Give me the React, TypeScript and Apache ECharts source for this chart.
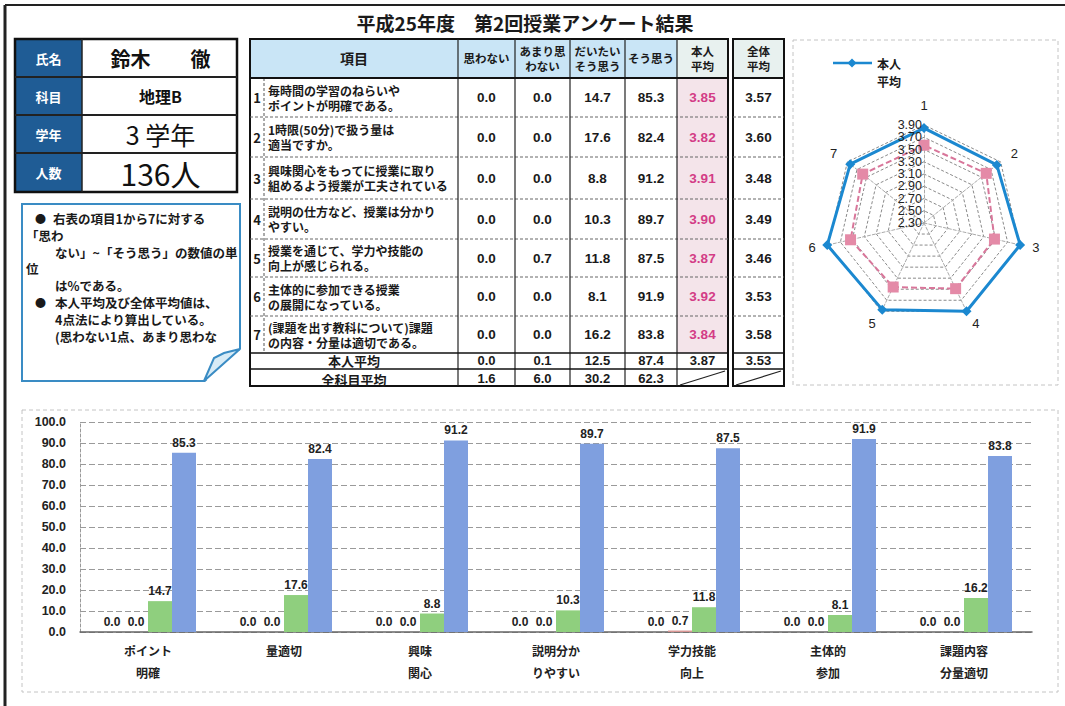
import React, { useEffect, useRef } from "react";
import * as echarts from "echarts";

// ---------- data ----------
const titleText = "平成25年度　第2回授業アンケート結果";
const infoLabels = ["氏名", "科目", "学年", "人数"];
const infoValues = ["鈴木　　徹", "地理B", "3 学年", "136人"];
const headerCols = ["思わない", "あまり思\nわない", "だいたい\nそう思う", "そう思う"];
const itemTexts = [
  "毎時間の学習のねらいや\nポイントが明確である。",
  "1時限(50分)で扱う量は\n適当ですか。",
  "興味関心をもってに授業に取り\n組めるよう授業が工夫されている",
  "説明の仕方など、授業は分かり\nやすい。",
  "授業を通じて、学力や技能の\n向上が感じられる。",
  "主体的に参加できる授業\nの展開になっている。",
  "(課題を出す教科について)課題\nの内容・分量は適切である。",
];
const omowanai = [0.0, 0.0, 0.0, 0.0, 0.0, 0.0, 0.0];
const amari = [0.0, 0.0, 0.0, 0.0, 0.7, 0.0, 0.0];
const daitai = [14.7, 17.6, 8.8, 10.3, 11.8, 8.1, 16.2];
const souOmou = [85.3, 82.4, 91.2, 89.7, 87.5, 91.9, 83.8];
const honninAvg = [3.85, 3.82, 3.91, 3.9, 3.87, 3.92, 3.84];
const zentaiAvg = [3.57, 3.6, 3.48, 3.49, 3.46, 3.53, 3.58];
const honninSummary = [0.0, 0.1, 12.5, 87.4];
const honninSummaryAvg = [3.87, 3.53];
const allSubjSummary = [1.6, 6.0, 30.2, 62.3];
const barCategories = ["ポイント\n明確", "量適切", "興味\n関心", "説明分か\nりやすい", "学力技能\n向上", "主体的\n参加", "課題内容\n分量適切"];
const barSeriesNames = ["思わない", "あまり思わない", "だいたいそう思う", "そう思う"];
const radarNames = ["1", "2", "3", "4", "5", "6", "7"];
const radarTicks = ["2.30", "2.50", "2.70", "2.90", "3.10", "3.30", "3.50", "3.70", "3.90"];
const noteLines = [
  { t: "●", x: 35, y: 218 },
  { t: "右表の項目1から7に対する", x: 53, y: 218 },
  { t: "「思わ", x: 26, y: 235 },
  { t: "ない」~「そう思う」の数値の単", x: 55, y: 252 },
  { t: "位", x: 26, y: 268 },
  { t: "は%である。", x: 55, y: 285 },
  { t: "●", x: 35, y: 302 },
  { t: "本人平均及び全体平均値は、", x: 55, y: 302 },
  { t: "4点法により算出している。", x: 55, y: 319 },
  { t: "(思わない1点、あまり思わな", x: 55, y: 336 },
];

// ---------- helpers ----------
const JP = '"Noto Sans CJK JP", "Noto Sans", sans-serif';
const NUM = '"Liberation Sans", Arial, sans-serif';

function txt(x: number, y: number, text: string, size: number, o: any = {}) {
  const style: any = {
    text,
    font: `${o.weight ?? "bold"} ${size}px ${o.family ?? JP}`,
    fill: o.color ?? "#1a1a1a",
    textAlign: o.align ?? "center",
    textVerticalAlign: "middle",
  };
  if (o.lh) style.lineHeight = o.lh;
  return { type: "text", x, y, silent: true, z: 10, style };
}
function rect(x: number, y: number, w: number, h: number, fill: string, stroke?: string, lw?: number, dash?: number[]) {
  return {
    type: "rect",
    silent: true,
    z: 1,
    shape: { x, y, width: w, height: h },
    style: { fill, stroke: stroke ?? "none", lineWidth: lw ?? 0, lineDash: dash },
  };
}
function ln(x1: number, y1: number, x2: number, y2: number, stroke = "#111", lw = 1, dash?: number[]) {
  return { type: "line", silent: true, z: 5, shape: { x1, y1, x2, y2 }, style: { stroke, lineWidth: lw, lineDash: dash } };
}

const f1 = (v: number) => v.toFixed(1);
const f2 = (v: number) => v.toFixed(2);

export default function App() {
  const ref = useRef<HTMLDivElement>(null);
  useEffect(() => {
    if (!ref.current) return;
    const chart = echarts.init(ref.current, null, { renderer: "svg" });
    const g: any[] = [];

    // outer frame
    g.push(ln(5, 5, 1065, 5, "#222", 2));
    g.push(ln(5, 5, 5, 706, "#222", 3));

    // ---- info table ----
    const iy = [39, 77, 115, 153, 192];
    const ix0 = 15, ix1 = 82, ix2 = 237;
    for (let i = 0; i < 4; i++) {
      g.push(rect(ix0, iy[i], ix1 - ix0, iy[i + 1] - iy[i], "#1f5c95"));
      g.push(rect(ix1, iy[i], ix2 - ix1, iy[i + 1] - iy[i], "#ffffff"));
      g.push(txt((ix0 + ix1) / 2, (iy[i] + iy[i + 1]) / 2, infoLabels[i], 13, { color: "#ffffff" }));
      if (i > 0) g.push(ln(ix0, iy[i], ix2, iy[i], "#222", 2));
    }
    g.push(ln(ix1, iy[0], ix1, iy[4], "#222", 1.5));
    g.push(rect(ix0, iy[0], ix2 - ix0, iy[4] - iy[0], "none", "#111", 2.5));
    const ivs = [
      { s: 20, w: "bold" },
      { s: 16, w: "bold" },
      { s: 25, w: "normal" },
      { s: 30, w: "normal" },
    ];
    for (let i = 0; i < 4; i++) {
      g.push(txt((ix1 + ix2) / 2 + 1, (iy[i] + iy[i + 1]) / 2, infoValues[i], ivs[i].s, { weight: ivs[i].w, color: "#111" }));
    }

    // ---- note box ----
    g.push(rect(22, 204, 218, 177, "#ffffff", "#3a8cc4", 2));
    g.push({ type: "polygon", silent: true, z: 6, shape: { points: [[204, 383], [242, 383], [242, 348]] }, style: { fill: "#ffffff" } });
    g.push({ type: "polygon", silent: true, z: 7, shape: { points: [[204, 381], [240, 349], [224, 353], [214, 358]] }, style: { fill: "#d7ebf6", stroke: "#3a8cc4", lineWidth: 2 } });
    g.push(ln(22, 381, 204, 381, "#3a8cc4", 2));
    g.push(ln(240, 204, 240, 349, "#3a8cc4", 2));
    noteLines.forEach((n) => g.push(txt(n.x, n.y, n.t, n.t === "●" ? 11 : 12.5, { align: "left", color: "#1a1a1a", lh: 14 })));

    // ---- main table ----
    const tx0 = 250, tNum = 264, tItem = 458;
    const vx = [458, 515, 570, 625, 677];
    const hX0 = 677, hX1 = 728, zX0 = 733, zX1 = 784;
    const yTop = 39, yHead = 78;
    const ry = [78, 117, 157, 199, 239, 277, 316, 353];
    const yS1 = 369, yBot = 386;
    // backgrounds
    g.push(rect(tx0, yTop, hX0 - tx0, yHead - yTop, "#c9e5f6"));
    g.push(rect(hX0, yTop, hX1 - hX0, yHead - yTop, "#e8f1ef"));
    g.push(rect(zX0, yTop, zX1 - zX0, yHead - yTop, "#e8f1ef"));
    g.push(rect(hX0, yHead, hX1 - hX0, ry[7] - yHead, "#f4e4ea"));
    g.push(rect(tx0, yHead, hX0 - tx0, yBot - yHead, "#ffffff"));
    g.push(rect(zX0, yHead, zX1 - zX0, yBot - yHead, "#ffffff"));
    // header text
    g.push(txt((tx0 + tItem) / 2, 58, "項目", 14));
    headerCols.forEach((h, i) => g.push(txt((vx[i] + vx[i + 1]) / 2, 58, h, 11.5, { lh: 15 })));
    g.push(txt((hX0 + hX1) / 2, 58, "本人\n平均", 11.5, { lh: 15 }));
    g.push(txt((zX0 + zX1) / 2, 58, "全体\n平均", 11.5, { lh: 15 }));
    // rows
    for (let r = 0; r < 7; r++) {
      const cy = (ry[r] + ry[r + 1]) / 2;
      g.push(txt(257, cy, String(r + 1), 13));
      g.push(txt(268, cy, itemTexts[r], 12, { align: "left", lh: 15 }));
      const vals = [omowanai[r], amari[r], daitai[r], souOmou[r]];
      vals.forEach((v, i) => g.push(txt((vx[i] + vx[i + 1]) / 2, cy, f1(v), 13.5, { family: NUM })));
      g.push(txt((hX0 + hX1) / 2, cy, f2(honninAvg[r]), 13.5, { family: NUM, color: "#d33c86" }));
      g.push(txt((zX0 + zX1) / 2, cy, f2(zentaiAvg[r]), 13.5, { family: NUM }));
      if (r > 0) {
        g.push(ln(tx0, ry[r], hX1, ry[r], "#666", 1, [3, 2]));
        g.push(ln(zX0, ry[r], zX1, ry[r], "#666", 1, [3, 2]));
      }
    }
    // summary rows
    const s1 = 360.5, s2 = 378.5;
    g.push(txt((tx0 + tItem) / 2, s1 - 0.5, "本人平均", 13, { lh: 13 }));
    g.push(txt((tx0 + tItem) / 2, s2 + 0.5, "全科目平均", 13, { lh: 13 }));
    honninSummary.forEach((v, i) => g.push(txt((vx[i] + vx[i + 1]) / 2, s1, f1(v), 13, { family: NUM, lh: 14 })));
    g.push(txt((hX0 + hX1) / 2, s1, f2(honninSummaryAvg[0]), 13, { family: NUM, lh: 14 }));
    g.push(txt((zX0 + zX1) / 2, s1, f2(honninSummaryAvg[1]), 13, { family: NUM, lh: 14 }));
    allSubjSummary.forEach((v, i) => g.push(txt((vx[i] + vx[i + 1]) / 2, s2, f1(v), 13, { family: NUM, lh: 14 })));
    g.push(ln(hX0 + 3, yBot - 1, hX1 - 3, yS1 + 2, "#222", 1.2));
    g.push(ln(zX0 + 3, yBot - 1, zX1 - 3, yS1 + 2, "#222", 1.2));
    // grid lines
    g.push(ln(tNum, yHead, tNum, ry[7], "#555", 1, [3, 2]));
    vx.forEach((x) => g.push(ln(x, yTop, x, yBot, "#222", 1.2)));
    g.push(ln(tx0, yHead, hX1, yHead, "#111", 2));
    g.push(ln(zX0, yHead, zX1, yHead, "#111", 2));
    [ry[7], yS1].forEach((y) => {
      g.push(ln(tx0, y, hX1, y, "#111", 1.5));
      g.push(ln(zX0, y, zX1, y, "#111", 1.5));
    });
    g.push(rect(tx0, yTop, hX1 - tx0, yBot - yTop, "none", "#111", 2));
    g.push(rect(zX0, yTop, zX1 - zX0, yBot - yTop, "none", "#111", 2));

    // title
    g.push(txt(525, 22, titleText, 19));

    // ---- radar panel ----
    g.push(rect(793, 40, 265, 345, "none", "#c4c4c4", 1, [4, 3]));
    const cx = 924, cy = 223, rr = 98;
    // legend
    g.push(ln(833, 63, 872, 63, "#1b88d0", 2.5));
    g.push({ type: "polygon", silent: true, z: 8, shape: { points: [[852, 58.5], [856.5, 63], [852, 67.5], [847.5, 63]] }, style: { fill: "#1b88d0" } });
    g.push(txt(877, 63, "本人", 12, { align: "left" }));
    g.push(txt(877, 81, "平均", 12, { align: "left" }));
    // tick labels along axis 1
    radarTicks.forEach((t) => {
      const v = parseFloat(t);
      const r = (rr * (v - 2.3)) / (3.9 - 2.3);
      g.push(txt(cx - 2, cy - r, t, 12.5, { align: "right", weight: "normal", family: NUM, color: "#222", lh: 12 }));
    });

    // ---- bar panel ----
    g.push(rect(22, 410, 1036, 282, "none", "#c4c4c4", 1, [4, 3]));

    // radar indicators are laid out counter-clockwise, so reverse to get clockwise 1..7
    const order = [0, 6, 5, 4, 3, 2, 1];

    chart.setOption({
      animation: false,
      graphic: { elements: g },
      radar: {
        center: [cx, cy],
        radius: rr,
        startAngle: 90,
        splitNumber: 8,
        shape: "polygon",
        indicator: order.map((i) => ({ name: radarNames[i], min: 2.3, max: 3.9 })),
        axisName: { color: "#222", fontSize: 13, fontFamily: NUM },
        nameGap: 13,
        splitLine: { lineStyle: { color: "#8a8a8a", width: 1, type: [3, 2] } },
        splitArea: { show: false },
        axisLine: { lineStyle: { color: "#aaa", width: 1, type: [3, 2] } },
        axisLabel: { show: false },
      },
      grid: { left: 80, right: 33, top: 422, bottom: 74 },
      xAxis: {
        type: "category",
        data: barCategories,
        axisTick: { show: false },
        axisLine: { lineStyle: { color: "#666", width: 1.5 } },
        axisLabel: { color: "#222", fontSize: 12, fontWeight: "bold", fontFamily: JP, lineHeight: 22, margin: 7, interval: 0 },
      },
      yAxis: {
        type: "value",
        min: 0,
        max: 100,
        interval: 10,
        axisLine: { show: true, lineStyle: { color: "#999", type: [3, 2] } },
        axisLabel: { color: "#222", fontSize: 12.5, fontWeight: "bold", fontFamily: NUM, margin: 14, formatter: (v: number) => v.toFixed(1) },
        splitLine: { lineStyle: { color: "#9a9a9a", type: [6, 3] } },
      },
      series: [
        {
          type: "radar",
          z: 3,
          symbol: "rect",
          symbolSize: 11,
          lineStyle: { color: "#d8769a", width: 2, type: [6, 3] },
          itemStyle: { color: "#e48aa7" },
          data: [{ name: "全体平均", value: order.map((i) => zentaiAvg[i]) }],
        },
        {
          type: "radar",
          z: 4,
          symbol: "diamond",
          symbolSize: 10,
          lineStyle: { color: "#1b88d0", width: 3 },
          itemStyle: { color: "#1b88d0" },
          data: [{ name: "本人平均", value: order.map((i) => honninAvg[i]) }],
        },
        ...[omowanai, amari, daitai, souOmou].map((arr, si) => ({
          type: "bar",
          name: barSeriesNames[si],
          data: arr,
          barWidth: 24,
          barGap: "0%",
          itemStyle: { color: ["#e6b9b8", "#d99694", "#8fcf7e", "#7f9fdf"][si] },
          label: {
            show: true,
            position: "top",
            distance: 4,
            color: "#222",
            fontSize: 12,
            fontWeight: "bold",
            fontFamily: NUM,
            formatter: (p: any) => f1(p.value),
          },
        })),
      ],
    });
    return () => chart.dispose();
  }, []);
  return <div ref={ref} style={{ position: "absolute", left: 0, top: 0, width: 1065, height: 706, background: "#fff" }} />;
}
